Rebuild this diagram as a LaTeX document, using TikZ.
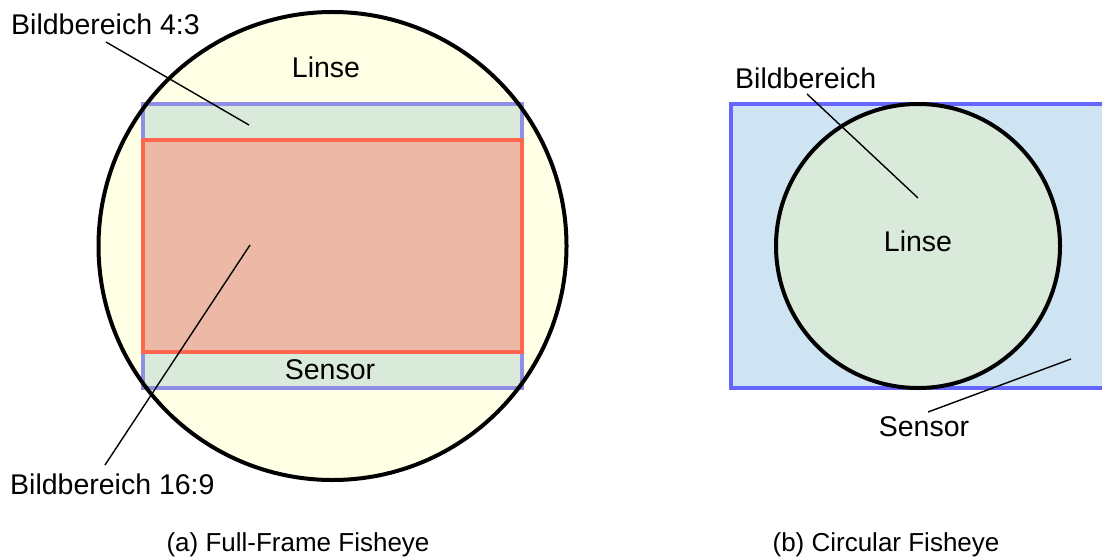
\documentclass[tikz,border=0pt]{standalone}
\usepackage{fontspec}
\setmainfont{Liberation Sans}
\definecolor{lenscol}{HTML}{FFFFE6}
\definecolor{greenfill}{HTML}{D9EADB}
\definecolor{bluestroke}{HTML}{8F8FE6}
\definecolor{redstroke}{HTML}{FF6650}
\definecolor{redfill}{HTML}{EBB9A5}
\definecolor{sensorfill}{HTML}{CFE4F3}
\definecolor{sensorstroke}{HTML}{6666FF}
\begin{document}
\begin{tikzpicture}[x=1pt,y=-1pt,
  lbl/.style={inner sep=0pt,font=\fontsize{28.5}{32}\selectfont},
  captext/.style={inner sep=0pt,font=\fontsize{26}{30}\selectfont},
  leader/.style={draw=black,line width=1.4pt},
  lens/.style={draw=black,line width=4pt},
  frame/.style={line width=3.5pt}]
\useasboundingbox (0,0) rectangle (1102,559);
% ---- (a) full frame
\fill[lenscol] (332.5,246) circle[radius=234];
\filldraw[frame,fill=greenfill,draw=bluestroke] (143,104) rectangle (522,388);
\filldraw[frame,fill=redfill,draw=redstroke] (143,140) rectangle (522,352);
\draw[lens] (332.5,246) circle[radius=234];
\node[lbl] (linseA) at (326,67) {Linse};
\node[lbl] (sensorA) at (330,370) {Sensor};
\node[lbl,anchor=west] (bb43) at (11,24) {Bildbereich 4:3};
\node[lbl,anchor=west] (bb169) at (10,484) {Bildbereich 16:9};
\coordinate (p43) at (249,125);
\coordinate (s43) at (106,42);
\coordinate (p169) at (250,245);
\coordinate (s169) at (105,465);
\draw[leader] (s43) -- (p43);
\draw[leader] (s169) -- (p169);
% ---- (b) circular
\fill[sensorfill] (731,104) rectangle (1102,388);
\draw[frame,draw=sensorstroke] (1104,104) -- (731,104) -- (731,388) -- (1104,388);
\filldraw[lens,fill=greenfill] (918,246) circle[radius=142];
\node[lbl] (linseB) at (918,241) {Linse};
\node[lbl] (sensorB) at (924,427) {Sensor};
\node[lbl,anchor=west] (bbB) at (735,78) {Bildbereich};
\coordinate (sB) at (807,94);
\coordinate (pB) at (918,198);
\coordinate (sS) at (928,412);
\coordinate (pS) at (1071,359);
\draw[leader] (sB) -- (pB);
\draw[leader] (sS) -- (pS);
% ---- captions
\node[captext] (capA) at (298,545) {(a) Full-Frame Fisheye};
\node[captext] (capB) at (886,545) {(b) Circular Fisheye};
\end{tikzpicture}
\end{document}
